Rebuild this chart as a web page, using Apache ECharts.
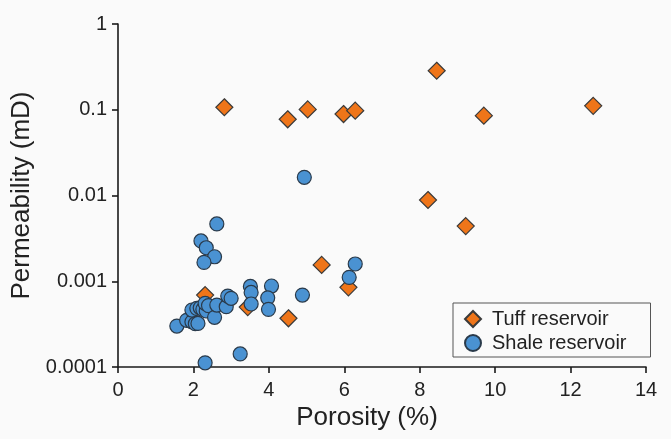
<!DOCTYPE html>
<html>
<head>
<meta charset="utf-8">
<script src="https://cdn.jsdelivr.net/npm/echarts@6/dist/echarts.min.js"></script>
<style>
  html, body { margin: 0; padding: 0; background: #fafafa; }
  #chart { width: 671px; height: 439px; }
</style>
</head>
<body>
<div id="chart"></div>
<script>
// Porosity (%) and permeability (mD) for tuff samples
const tuffPorosity = [2.82, 4.50, 5.03, 5.98, 6.29, 8.45, 9.70, 12.60, 8.22, 9.22, 5.40, 6.11, 4.52, 2.31, 3.44];
const tuffPermeability = [0.107, 0.0774, 0.101, 0.0891, 0.0975, 0.285, 0.0853, 0.111, 0.00886, 0.0044, 0.00155, 0.00085, 0.00037, 0.00069, 0.00050];

// Porosity (%) and permeability (mD) for shale samples
const shalePorosity = [1.56, 1.82, 1.96, 2.05, 2.12, 1.96, 2.09, 2.18, 2.25, 2.34, 2.31, 2.40, 2.56, 2.62, 2.87, 2.91, 3.00, 3.51, 3.53, 3.53, 4.07, 3.97, 3.99, 4.89, 2.31, 3.24, 2.20, 2.34, 2.56, 2.28, 2.62, 4.94, 6.13, 6.29];
const shalePermeability = [0.000300, 0.000350, 0.000337, 0.000320, 0.000322, 0.000462, 0.000483, 0.000490, 0.000470, 0.000450, 0.000553, 0.000520, 0.000380, 0.000528, 0.000505, 0.000672, 0.000632, 0.000870, 0.000740, 0.000543, 0.000880, 0.000640, 0.000470, 0.000690, 0.000112, 0.000142, 0.00295, 0.00246, 0.00193, 0.00166, 0.00466, 0.0163, 0.00111, 0.00159];

const seriesNames = ['Tuff reservoir', 'Shale reservoir'];
const yTickValues = [0.0001, 0.001, 0.01, 0.1, 1];
const yTickLabels = ['0.0001', '0.001', '0.01', '0.1', '1'];

const pairs = (xs, ys) => xs.map((x, i) => [x, ys[i]]);

const FONT = '"Liberation Sans", Arial, sans-serif';
const AXIS_COLOR = '#1a1a1a';
const TEXT_COLOR = '#222';

const chart = echarts.init(document.getElementById('chart'), null, { renderer: 'canvas' });

chart.setOption({
  backgroundColor: '#fafafa',
  animation: false,
  grid: { left: 118, right: 25, top: 24, bottom: 72, containLabel: false },
  xAxis: {
    type: 'value',
    min: 0,
    max: 14,
    interval: 2,
    name: 'Porosity (%)',
    nameLocation: 'middle',
    nameGap: 30,
    nameTextStyle: { fontFamily: FONT, fontSize: 26, color: TEXT_COLOR, padding: [0, 30, 0, 0] },
    axisLine: { show: true, lineStyle: { color: AXIS_COLOR, width: 1.6 } },
    axisTick: { show: true, length: 6, lineStyle: { color: AXIS_COLOR, width: 1.6 } },
    axisLabel: { fontFamily: FONT, fontSize: 20, color: TEXT_COLOR, margin: 13 },
    splitLine: { show: false }
  },
  yAxis: {
    type: 'log',
    logBase: 10,
    min: 0.0001,
    max: 1,
    name: 'Permeability (mD)',
    nameLocation: 'middle',
    nameGap: 78,
    nameTextStyle: { fontFamily: FONT, fontSize: 26, color: TEXT_COLOR },
    axisLine: { show: true, lineStyle: { color: AXIS_COLOR, width: 1.6 } },
    axisTick: { show: true, length: 6, lineStyle: { color: AXIS_COLOR, width: 1.6 } },
    axisLabel: {
      fontFamily: FONT,
      fontSize: 20,
      color: TEXT_COLOR,
      margin: 11,
      formatter: function (v) {
        let best = 0;
        for (let i = 0; i < yTickValues.length; i++) {
          if (Math.abs(Math.log10(v) - Math.log10(yTickValues[i])) <
              Math.abs(Math.log10(v) - Math.log10(yTickValues[best]))) best = i;
        }
        return yTickLabels[best];
      }
    },
    splitLine: { show: false }
  },
  legend: {
    orient: 'vertical',
    left: 453,
    top: 303,
    padding: [5, 24, 3, 11],
    itemGap: 2,
    itemWidth: 16,
    itemHeight: 16,
    backgroundColor: '#fafafa',
    borderColor: '#555',
    borderWidth: 1,
    textStyle: { fontFamily: FONT, fontSize: 20, color: TEXT_COLOR, lineHeight: 22, padding: [0, 0, 0, 6] },
    data: [
      { name: seriesNames[0], icon: 'diamond' },
      { name: seriesNames[1], icon: 'circle' }
    ]
  },
  series: [
    {
      name: seriesNames[0],
      type: 'scatter',
      symbol: 'diamond',
      symbolSize: 17,
      itemStyle: { color: '#ef7519', borderColor: '#3a3a3a', borderWidth: 1.2, opacity: 1 },
      data: pairs(tuffPorosity, tuffPermeability),
      z: 2
    },
    {
      name: seriesNames[1],
      type: 'scatter',
      symbol: 'circle',
      symbolSize: 14,
      itemStyle: { color: '#4a92d2', borderColor: '#2a3a4a', borderWidth: 1.2, opacity: 1 },
      data: pairs(shalePorosity, shalePermeability),
      z: 3
    }
  ]
});
</script>
</body>
</html>
